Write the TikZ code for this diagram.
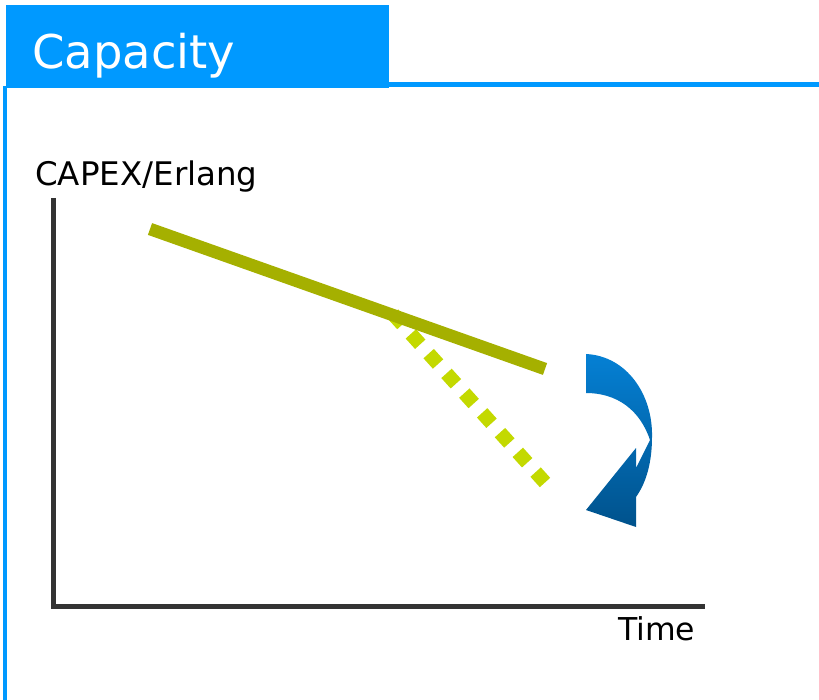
\documentclass[tikz,border=0pt]{standalone}
\usepackage{fontspec}
\setmainfont{DejaVu Sans}
\usepackage{tikz}
\usepackage{xcolor}

\definecolor{capblue}{RGB}{0,153,255}
\definecolor{axisgray}{RGB}{51,51,51}
\definecolor{oldcost}{RGB}{165,176,0}
\definecolor{newcost}{RGB}{195,217,0}
\definecolor{turntop}{RGB}{5,128,212}
\definecolor{turnbot}{RGB}{0,82,140}

\begin{document}
\begin{tikzpicture}[x=1pt, y=-1pt]
  \useasboundingbox (0,0) rectangle (819,700);
  % title tab and frame
  \fill[capblue] (6,5) rectangle (389,88);
  \draw[capblue, line width=5pt] (389,85) -- (819,85);
  \draw[capblue, line width=4pt] (5.2,86) -- (5.2,700);
  \node[anchor=base west, inner sep=0, text=white, font=\fontsize{46.5}{50}\selectfont] (title) at (32,69) {Capacity};
  % axes
  \coordinate (ytop) at (53,198);
  \coordinate (origin) at (53,606.5);
  \coordinate (xend) at (705,606.5);
  \draw[axisgray, line width=5pt] (ytop) -- (origin) -- (xend);
  \node[anchor=base west, inner sep=0, font=\fontsize{32.5}{38}\selectfont] (ylab) at (35,186) {CAPEX/Erlang};
  \node[anchor=base west, inner sep=0, font=\fontsize{31.5}{36}\selectfont] (xlab) at (618,640) {Time};
  % cost curves: dotted one first, solid one on top
  \coordinate (dotend) at (545,482.5);
  \coordinate (dotstart) at (392,313);
  \draw[newcost, line width=14pt, dash pattern=on 14pt off 12.6pt] (dotend) -- (dotstart);
  \coordinate (solstart) at (150,229);
  \coordinate (solend) at (545,369);
  \draw[oldcost, line width=12.5pt] (solstart) -- (solend);
  % turning arrow
  \shade[top color=turntop, bottom color=turnbot]
    (586,354) .. controls (627,356) and (653,395) .. (652,437)
    .. controls (652,463) and (646,483) .. (636,497)
    -- (636,527) -- (586,510) -- (636,448) -- (636,468)
    -- (650,440)
    .. controls (640,410) and (617,393) .. (586,393) -- cycle;
\end{tikzpicture}
\end{document}
